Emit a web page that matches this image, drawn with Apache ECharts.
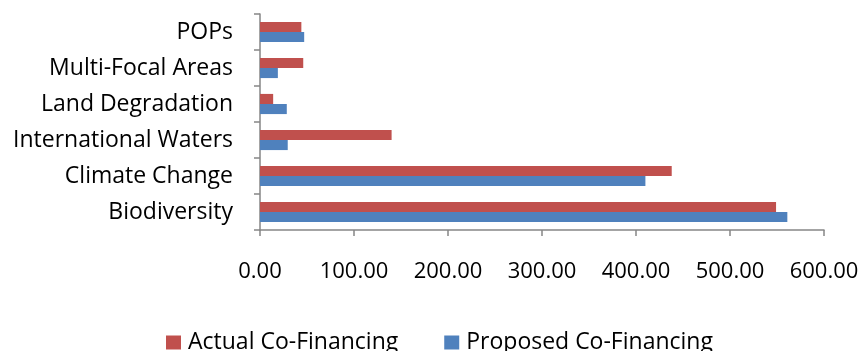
<!DOCTYPE html>
<html>
<head>
<meta charset="utf-8">
<script src="https://cdn.jsdelivr.net/npm/echarts@6/dist/echarts.min.js"></script>
<style>
  html, body { margin: 0; padding: 0; background: #fff; }
  #chart { width: 863px; height: 351px; }
</style>
</head>
<body>
<div id="chart"></div>
<script>
// Co-financing by focal area
const categories = ['Biodiversity', 'Climate Change', 'International Waters', 'Land Degradation', 'Multi-Focal Areas', 'POPs'];
const actualCoFinancing = [549, 438, 140, 14, 46, 44];
const proposedCoFinancing = [561, 410, 29.5, 28.5, 19, 47];
const xTicks = { min: 0, max: 600, step: 100 };

const FONT = 'Open Sans';
const AXIS_GREY = '#868686';
const chart = echarts.init(document.getElementById('chart'));
chart.setOption({
  animation: false,
  textStyle: { fontFamily: FONT },
  grid: { left: 260, right: 39, top: 14, bottom: 121 },
  legend: {
    data: ['Actual Co-Financing', 'Proposed Co-Financing'],
    top: 331,
    left: 166,
    padding: 0,
    itemWidth: 15,
    itemHeight: 14,
    itemGap: 46,
    icon: 'rect',
    textStyle: { fontFamily: FONT, fontSize: 23, color: '#000', padding: [2, 0, 0, 2] }
  },
  xAxis: {
    type: 'value',
    min: xTicks.min,
    max: xTicks.max,
    interval: xTicks.step,
    splitLine: { show: false },
    axisLine: { show: true, lineStyle: { color: AXIS_GREY, width: 1.5 } },
    axisTick: { show: true, length: 6, lineStyle: { color: AXIS_GREY, width: 1.5 } },
    axisLabel: {
      margin: 31,
      fontSize: 22,
      color: '#000',
      fontFamily: FONT,
      formatter: v => v.toFixed(2)
    }
  },
  yAxis: {
    type: 'category',
    data: categories,
    axisLine: { show: true, lineStyle: { color: AXIS_GREY, width: 1.5 } },
    axisTick: { show: true, length: 6, alignWithLabel: false, lineStyle: { color: AXIS_GREY, width: 1.5 } },
    axisLabel: { margin: 27, fontSize: 23, color: '#000', fontFamily: FONT }
  },
  series: [
    {
      name: 'Actual Co-Financing',
      type: 'bar',
      data: actualCoFinancing,
      itemStyle: { color: '#C0504D' },
      barGap: '0%',
      barCategoryGap: '44%'
    },
    {
      name: 'Proposed Co-Financing',
      type: 'bar',
      data: proposedCoFinancing,
      itemStyle: { color: '#4F81BD' },
      barGap: '0%',
      barCategoryGap: '44%'
    }
  ]
});
</script>
</body>
</html>
